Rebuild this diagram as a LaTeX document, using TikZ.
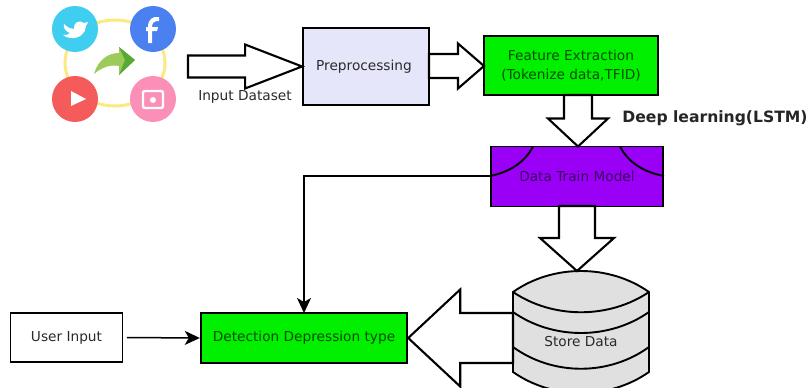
\documentclass[tikz,border=0pt]{standalone}
\usepackage{fontspec}
\setmainfont{DejaVu Sans}
\usetikzlibrary{calc,arrows.meta}
\definecolor{lav}{HTML}{E6E6FA}
\definecolor{grn}{HTML}{00F000}
\definecolor{purp}{HTML}{9900F5}
\definecolor{cyl}{HTML}{E0E0E0}
\definecolor{txt}{HTML}{2A2A2A}
\definecolor{tw}{HTML}{3FCDF0}
\definecolor{fb}{HTML}{4A80F0}
\definecolor{yt}{HTML}{F55B5B}
\definecolor{ig}{HTML}{FB8FB8}
\definecolor{ringc}{HTML}{FBEA80}
\definecolor{arrl}{HTML}{9CCB5A}
\definecolor{arrd}{HTML}{58A835}
\tikzset{
 boxnode/.style={draw=black,line width=1.9pt,inner sep=0pt,align=center,text=txt,font=\fontsize{13.7}{19}\selectfont},
 greenbox/.style={boxnode,fill=grn,text=green!30!black},
 lbl/.style={inner sep=0pt,text=txt,font=\fontsize{13.7}{16}\selectfont},
 blockline/.style={draw=black,fill=white,line width=2.1pt,miter limit=10,line join=miter},
 thinarrow/.style={draw=black,line width=1.5pt,-{Stealth[length=15pt,width=14pt,inset=4pt]}},
 ring/.style={draw=ringc,line width=3pt},
 curveline/.style={draw=black,line width=1.9pt},
}
% \blockarrow{start}{tip}{half shaft}{half head}{head length}
\newcommand{\blockarrow}[5]{%
 \coordinate (hb) at ($(#2)!#5!(#1)$);
 \draw[blockline] ($(#1)!#3!90:(#2)$) -- ($(hb)!#3!90:(#2)$) -- ($(hb)!#4!90:(#2)$) -- (#2)
   -- ($(hb)!#4!-90:(#2)$) -- ($(hb)!#3!-90:(#2)$) -- ($(#1)!#3!-90:(#2)$) -- cycle;
}
\begin{document}
\begin{tikzpicture}[x=1pt,y=-1pt]
\useasboundingbox (0,0) rectangle (809,388);
\clip (0,0) rectangle (809,388);
\fill[white] (0,0) rectangle (809,388);
% social icon group
\draw[ring] (115,63) ellipse [x radius=50,y radius=43];
\fill[tw] (75,29) circle (23);
\fill[white] (64,24) .. controls (68,28) and (71,29) .. (74,29) .. controls (73,23) and (79,19) .. (84,23) -- (88,22) -- (86,26)
  .. controls (86,33) and (79,39) .. (71,38) .. controls (68,38) and (65,37) .. (63,35) .. controls (66,35) and (68,35) .. (70,33)
  .. controls (66,32) and (63,28) .. (64,24) -- cycle;
\fill[fb] (153,29) circle (23);
\fill[white] (148,43) -- (148,31) -- (146,31) -- (146,27) -- (148,27) .. controls (148,19) and (153,16) .. (159,17) -- (159,21)
  .. controls (155,21) and (152,22) .. (152,27) -- (158,27) -- (157,31) -- (152,31) -- (152,43) -- cycle;
\fill[yt] (75,99) circle (23);
\fill[white] (71,91) -- (86,99) -- (71,106) -- cycle;
\fill[ig] (153,99) circle (23);
\draw[white,line width=2.4pt,rounded corners=2pt] (143,91) rectangle (163,108);
\fill[white] (153,100) circle (3);
\fill[arrl] (94,74) .. controls (98,60) and (108,53) .. (119,53) -- (119,47) -- (135,60) -- (119,75) -- (119,66) .. controls (110,64) and (101,68) .. (94,74) -- cycle;
\fill[arrd] (119,47) -- (135,60) -- (119,75) -- (125,60) -- cycle;
% boxes
\coordinate (src) at (188,66.5);
\node[boxnode,fill=lav,minimum width=126pt,minimum height=77pt] (pre) at (366,66.5) {\hspace*{-4pt}Preprocessing};
\node[greenbox,minimum width=174pt,minimum height=59pt] (feat) at (571,65.5) {Feature Extraction\\(Tokenize data,TFID)};
\node[boxnode,fill=purp,minimum width=172pt,minimum height=60pt,text=purp!40!black] (train) at (577,176.5) {Data Train Model};
\draw[curveline] (533,146.5) .. controls (525,162) and (510,172) .. (train.west |- 0,176);
\draw[curveline] (620,146.5) .. controls (628,162) and (643,172) .. (train.east |- 0,176);
% cylinder
\draw[curveline,fill=cyl] (513,292) .. controls (553,264) and (609,264) .. (649,292) -- (649,372) .. controls (609,400) and (553,400) .. (513,372) -- cycle;
\draw[curveline] (513,292) .. controls (553,319) and (609,319) .. (649,292);
\draw[curveline] (513,312) .. controls (553,340) and (609,340) .. (649,312);
\draw[curveline] (513,347) .. controls (553,376) and (609,376) .. (649,347);
\node[lbl] (store) at (581,342) {Store Data};
\node[greenbox,minimum width=206.5pt,minimum height=50pt] (det) at (304,338) {Detection Depression type};
\node[boxnode,fill=white,minimum width=112pt,minimum height=49pt] (user) at (66.5,337.5) {User Input};
\coordinate (storeleft) at (513,338);
% block arrows
\blockarrow{src}{pre.west}{11pt}{22pt}{57pt}
\coordinate (a2t) at (484,66);
\coordinate (a2s) at (429,66);
\blockarrow{a2s}{a2t}{12pt}{22.5pt}{26pt}
\coordinate (a3s) at (578,95);
\coordinate (a3t) at (578,146.5);
\blockarrow{a3s}{a3t}{14pt}{30pt}{28pt}
\coordinate (a4s) at (577,206);
\coordinate (a4t) at (577,271);
\blockarrow{a4s}{a4t}{18pt}{37pt}{33pt}
\blockarrow{storeleft}{det.east}{25pt}{48.5pt}{52pt}
% thin connectors
\draw[thinarrow,shorten <=3.5pt] (user.east) -- (det.west);
\draw[thinarrow] (train.west |- 0,176) -- (304,176) -- (304,313);
% labels
\node[lbl] (inp) at (245,97) {Input Dataset};
\node[lbl,font=\bfseries\fontsize{15.6}{18}\selectfont,text=black!85] (deep) at (715,118) {Deep learning(LSTM)};
\end{tikzpicture}
\end{document}
